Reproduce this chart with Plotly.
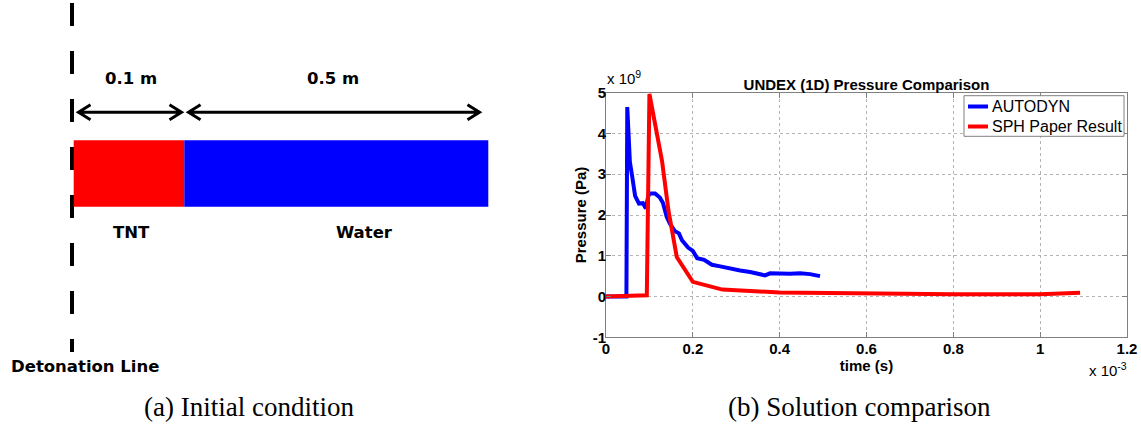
import plotly.graph_objects as go

# ---------------- data (time in 1e-3 s, pressure in 1e9 Pa) ----------------
autodyn_t = [0.0, 0.047, 0.049, 0.055, 0.060, 0.067, 0.076, 0.085, 0.092, 0.097,
             0.101, 0.113, 0.124, 0.131, 0.140, 0.147, 0.159, 0.168, 0.175, 0.189,
             0.200, 0.210, 0.226, 0.244, 0.263, 0.286, 0.309, 0.332, 0.355, 0.366,
             0.378, 0.401, 0.424, 0.447, 0.470, 0.493]
autodyn_p = [0.0, 0.0, 4.65, 3.30, 2.97, 2.47, 2.28, 2.29, 2.16, 2.45,
             2.53, 2.53, 2.43, 2.30, 1.95, 1.79, 1.60, 1.55, 1.38, 1.20,
             1.12, 0.94, 0.90, 0.78, 0.74, 0.68, 0.64, 0.60, 0.56, 0.52,
             0.57, 0.56, 0.56, 0.57, 0.55, 0.50]

sph_t = [0.0, 0.094, 0.100, 0.129, 0.144, 0.163, 0.200, 0.268, 0.400, 0.600,
         0.800, 1.000, 1.092]
sph_p = [0.0, 0.03, 4.97, 3.33, 2.10, 0.97, 0.36, 0.17, 0.10, 0.07,
         0.056, 0.056, 0.09]

series_names = ["AUTODYN", "SPH Paper Result"]
series_colors = ["#0000FF", "#FF0000"]

x_ticks = [0, 0.2, 0.4, 0.6, 0.8, 1.0, 1.2]
x_tick_labels = ["0", "0.2", "0.4", "0.6", "0.8", "1", "1.2"]
y_ticks = [-1, 0, 1, 2, 3, 4, 5]
y_tick_labels = ["-1", "0", "1", "2", "3", "4", "5"]

chart_title = "UNDEX (1D) Pressure Comparison"
x_title = "time (s)"
y_title = "Pressure (Pa)"

# schematic labels
tnt_length_label = "0.1 m"
water_length_label = "0.5 m"
tnt_label = "TNT"
water_label = "Water"
detonation_label = "Detonation Line"
caption_a = "(a) Initial condition"
caption_b = "(b) Solution comparison"

W, H = 1141, 425


def px(x):
    return x / W


def py(y):
    return 1 - y / H


SANS = "Liberation Sans, Arial, sans-serif"
VERD = "DejaVu Sans, Verdana, sans-serif"
SERIF = "Liberation Serif, Times New Roman, serif"

fig = go.Figure()
fig.add_trace(go.Scatter(x=autodyn_t, y=autodyn_p, mode="lines", name=series_names[0],
                         line=dict(color=series_colors[0], width=4), showlegend=False))
fig.add_trace(go.Scatter(x=sph_t, y=sph_p, mode="lines", name=series_names[1],
                         line=dict(color=series_colors[1], width=4), showlegend=False))

axis_common = dict(showline=True, linecolor="#808080", linewidth=1, mirror="ticks",
                   ticks="inside", ticklen=5, tickcolor="#808080",
                   showgrid=True, gridcolor="#b4b4b4", griddash="dot", gridwidth=1,
                   zeroline=False, automargin=False,
                   tickfont=dict(family=SANS, size=15, color="black", weight="bold"))

fig.update_layout(
    width=W, height=H, autosize=False,
    margin=dict(l=0, r=0, t=0, b=0, pad=0, autoexpand=False),
    paper_bgcolor="white", plot_bgcolor="white",
    xaxis=dict(domain=[px(606), px(1127)], range=[0, 1.2], tickvals=x_ticks,
               ticktext=x_tick_labels, anchor="y", ticklabelstandoff=-2,
               title=dict(text=x_title, font=dict(family=SANS, size=15, color="black", weight="bold"),
                          standoff=0),
               **axis_common),
    yaxis=dict(domain=[py(337.3), py(92.7)], range=[-1, 5], tickvals=y_ticks,
               ticktext=y_tick_labels, anchor="x", ticklabelstandoff=-4,
               title=dict(text=y_title, font=dict(family=SANS, size=15, color="black", weight="bold"),
                          standoff=2),
               **axis_common),
    xaxis2=dict(domain=[0, px(500)], range=[0, 500], visible=False, anchor="y2",
                fixedrange=True),
    yaxis2=dict(domain=[0, 1], range=[H, 0], visible=False, anchor="x2",
                fixedrange=True),
    showlegend=False,
    title=dict(text=chart_title, x=px(866.5), xanchor="center", y=py(85),
               yanchor="middle", xref="paper", yref="paper",
               font=dict(family=SANS, size=15, color="black", weight="bold")),
)

shapes = []

# ---------------- legend box (drawn by hand, MATLAB style) ----------------
leg_x0, leg_x1, leg_y0, leg_y1 = 964, 1124, 95.7, 136.3
shapes.append(dict(type="rect", xref="paper", yref="paper",
                   x0=px(leg_x0), x1=px(leg_x1), y0=py(leg_y1), y1=py(leg_y0),
                   fillcolor="white", line=dict(color="#808080", width=1)))
for i, (name, col) in enumerate(zip(series_names, series_colors)):
    yc = 106.5 + 20 * i
    shapes.append(dict(type="line", xref="paper", yref="paper",
                       x0=px(968), x1=px(988), y0=py(yc), y1=py(yc),
                       line=dict(color=col, width=4)))
    fig.add_annotation(text=name, x=px(989.5), y=py(yc), xref="paper", yref="paper",
                       showarrow=False, xanchor="left", yanchor="middle",
                       font=dict(family=SANS, size=16, color="black"))

# ---------------- schematic (left panel, window-pixel coordinates) ----------------
shapes.append(dict(type="line", xref="x2", yref="y2", x0=72, x1=72, y0=3, y1=352,
                   line=dict(color="black", width=4, dash="23px,25px")))
shapes.append(dict(type="rect", xref="x2", yref="y2", x0=73.7, x1=184.3, y0=140.3, y1=206.7,
                   fillcolor="#FF0000", line=dict(width=0)))
shapes.append(dict(type="rect", xref="x2", yref="y2", x0=184.3, x1=488.3, y0=140.3, y1=206.7,
                   fillcolor="#0000FF", line=dict(width=0)))


def double_arrow(xa, xb, y):
    return ("M %g,%g L %g,%g M %g,%g L %g,%g L %g,%g M %g,%g L %g,%g L %g,%g" %
            (xa, y, xb, y,
             xa + 12, y - 7.5, xa, y, xa + 12, y + 7.5,
             xb - 12, y - 7.5, xb, y, xb - 12, y + 7.5))


for xa, xb in [(78.5, 181.5), (188.5, 479.5)]:
    shapes.append(dict(type="path", xref="x2", yref="y2", path=double_arrow(xa, xb, 112.3),
                       line=dict(color="black", width=3)))
fig.update_layout(shapes=shapes)

verd_font = dict(family=VERD, size=16.5, color="black", weight="bold")
for txt, x, y in [(tnt_length_label, 131, 78), (water_length_label, 333, 78),
                  (tnt_label, 131, 232), (water_label, 364.5, 232),
                  (detonation_label, 84.5, 366.5)]:
    fig.add_annotation(text=txt, x=x, y=y, xref="x2", yref="y2", showarrow=False,
                       xanchor="center", yanchor="middle", font=verd_font)

# multipliers
fig.add_annotation(text="x 10<sup>9</sup>", x=px(605), y=py(89), xref="paper", yref="paper",
                   showarrow=False, xanchor="left", yanchor="bottom",
                   font=dict(family=SANS, size=15, color="black"))
fig.add_annotation(text="x 10<sup>-3</sup>", x=px(1129), y=py(358), xref="paper", yref="paper",
                   showarrow=False, xanchor="right", yanchor="top",
                   font=dict(family=SANS, size=15, color="black"))

# captions
cap_font = dict(family=SERIF, size=27, color="black")
fig.add_annotation(text=caption_a, x=px(249), y=py(407), xref="paper", yref="paper",
                   showarrow=False, xanchor="center", yanchor="middle", font=cap_font)
fig.add_annotation(text=caption_b, x=px(859), y=py(407), xref="paper", yref="paper",
                   showarrow=False, xanchor="center", yanchor="middle", font=cap_font)

fig.write_html("out.html")
